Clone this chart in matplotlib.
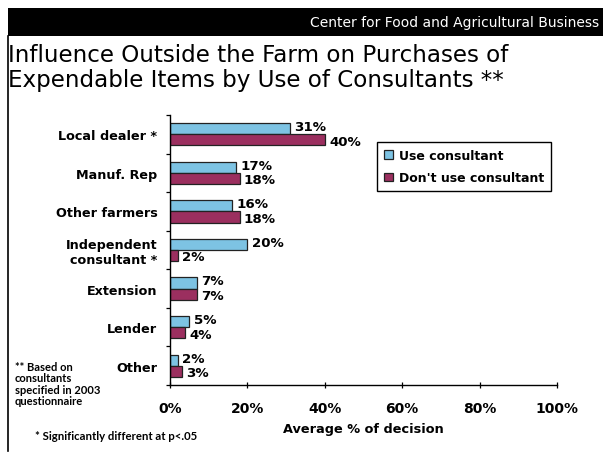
import numpy as np
import matplotlib
matplotlib.use("Agg")
import matplotlib.pyplot as plt
from matplotlib.patches import Rectangle
from matplotlib.lines import Line2D

# Data
categories = ["Local dealer *", "Manuf. Rep", "Other farmers",
              "Independent\nconsultant *", "Extension", "Lender", "Other"]
use_consultant = [31, 17, 16, 20, 7, 5, 2]
dont_use_consultant = [40, 18, 18, 2, 7, 4, 3]
x_ticks = [0, 20, 40, 60, 80, 100]
x_tick_labels = ["0%", "20%", "40%", "60%", "80%", "100%"]
series_names = ["Use consultant", "Don't use consultant"]

BLUE = "#7DC3E3"
PLUM = "#9B2F5F"
EDGE = "#222222"

W, H = 603, 456
fig = plt.figure(figsize=(W / 100, H / 100), dpi=100)
fig.patch.set_facecolor("white")

def fx(px):
    return px / W

def fy(py):
    return 1 - py / H

# Header band
fig.patches.append(Rectangle((fx(7.5), fy(37)), 1 - fx(7.5), 28 / H,
                             transform=fig.transFigure, facecolor="black",
                             edgecolor="none", zorder=0))
fig.text(fx(599), fy(23), "Center for Food and Agricultural Business",
         color="white", ha="right", va="center", fontsize=10,
         family="DejaVu Sans")
# Left border rule
fig.lines.append(Line2D([fx(8), fx(8)], [fy(37), fy(452)],
                        transform=fig.transFigure, color="black", lw=1.2))

# Title
fig.text(fx(8), fy(44),
         "Influence Outside the Farm on Purchases of\n"
         "Expendable Items by Use of Consultants **",
         ha="left", va="top", fontsize=16.6, linespacing=1.1,
         family="DejaVu Sans")

ax = fig.add_axes([fx(170), fy(386), fx(557) - fx(170), (386 - 116) / H])

y = np.arange(len(categories))
h = 0.29
b1 = ax.barh(y - h / 2, use_consultant, height=h, color=BLUE,
             edgecolor=EDGE, linewidth=0.9, label=series_names[0])
b2 = ax.barh(y + h / 2, dont_use_consultant, height=h, color=PLUM,
             edgecolor=EDGE, linewidth=0.9, label=series_names[1])

# Value labels at the end of each bar
for bars, dy in ((b1, 1.5), (b2, -1.0)):
    for rect, v in zip(bars, bars.datavalues):
        ax.annotate(f"{v:g}%", xy=(rect.get_width(), rect.get_y() + rect.get_height() / 2),
                    xytext=(3, dy), textcoords="offset points",
                    ha="left", va="center", fontsize=9.6, fontweight="bold")

ax.set_xlim(0, 100)
ax.set_ylim(len(categories) - 0.5, -0.5)
ax.set_xticks(x_ticks)
ax.set_xticklabels(x_tick_labels, fontsize=10, fontweight="bold")
ax.set_yticks(np.arange(-0.5, len(categories)))
ax.set_yticklabels([])
ax.set_yticks(y, minor=True)
ax.set_yticklabels(categories, minor=True, fontsize=9.2, fontweight="bold")
ax.tick_params(axis="y", which="major", direction="out", length=3, width=0.9)
ax.tick_params(axis="y", which="minor", length=0, pad=9)
ax.tick_params(axis="x", direction="inout", length=5, width=0.9, pad=9)
ax.set_xlabel("Average % of decision", fontsize=9.3, fontweight="bold",
              labelpad=5)

for s in ("top", "right"):
    ax.spines[s].set_visible(False)
for s in ("left", "bottom"):
    ax.spines[s].set_linewidth(1.0)

leg = ax.legend(loc="upper left", bbox_to_anchor=(fx(377), fy(143)),
                bbox_transform=fig.transFigure, borderaxespad=0,
                fancybox=False, framealpha=1, edgecolor="black",
                prop={"size": 9, "weight": "bold"}, handlelength=0.7,
                handleheight=0.7, handletextpad=0.5, labelspacing=0.75,
                borderpad=0.55)
leg.get_frame().set_linewidth(1.0)

# Footnotes
fig.text(fx(15), fy(362), "** Based on\nconsultants\nspecified in 2003\nquestionnaire",
         ha="left", va="top", fontsize=8, fontweight="bold", family="Lato",
         linespacing=1.05)
fig.text(fx(35), fy(437), "* Significantly different at p<.05",
         ha="left", va="center", fontsize=8.2, fontweight="bold", family="Lato")

fig.savefig("out.png", dpi=100)
